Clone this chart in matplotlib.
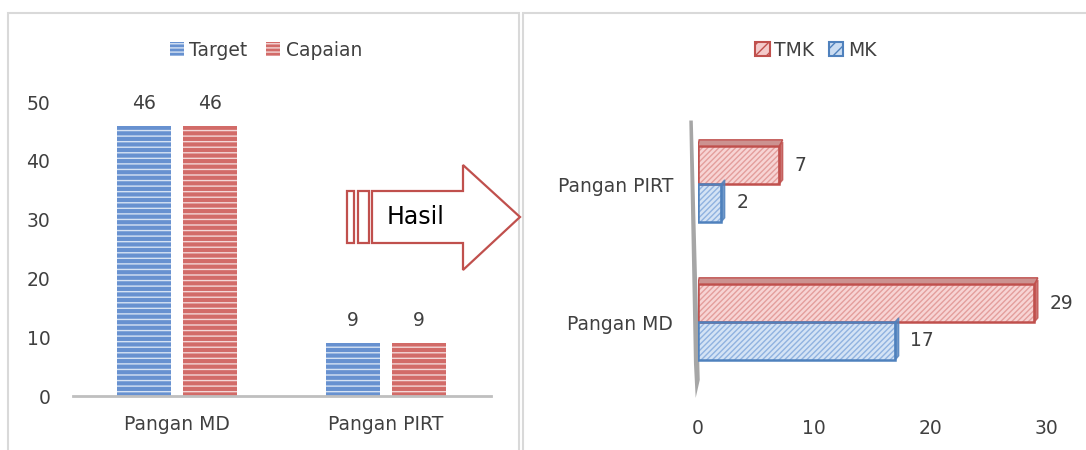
import matplotlib

matplotlib.use("Agg")
import matplotlib.pyplot as plt
from matplotlib.patches import Patch, Polygon, Rectangle

plt.rcParams["font.family"] = ["DejaVu Sans"]

# Data: left chart (target vs capaian)
categories_left = ["Pangan MD", "Pangan PIRT"]
target = [46, 9]
capaian = [46, 9]
yticks_left = [0, 10, 20, 30, 40, 50]

# Data: right chart (TMK vs MK)
categories_right = ["Pangan MD", "Pangan PIRT"]
tmk = [29, 7]
mk = [17, 2]
xticks_right = [0, 10, 20, 30]

BLUE = "#6791D0"
RED = "#D26B68"
BLUE_EDGE = "#4F81BD"
RED_EDGE = "#C0504D"
TEXT = "#404040"
GRAY = "#BFBFBF"
FS = 13.5


def hatch_lw(artists, lw):
    # hatch linewidth is read from rcParams at draw time, so wrap each draw
    for a in artists:
        orig = a.draw

        def draw(renderer, _orig=orig):
            with plt.rc_context({"hatch.linewidth": lw}):
                _orig(renderer)

        a.draw = draw


fig = plt.figure(figsize=(10.86, 4.5), dpi=100)
fig.patch.set_facecolor("white")

# panel frames
for x0, x1 in [(8, 519), (523, 1092)]:
    fig.patches.append(Rectangle((x0 / 1086, -0.05), (x1 - x0) / 1086, (450 - 13) / 450 + 0.05,
                                 transform=fig.transFigure, fill=False, edgecolor="#D9D9D9",
                                 linewidth=1.5, zorder=0))

# ---------- left chart ----------
ax1 = fig.add_axes([72.5 / 1086, 54 / 450, 418 / 1086, 294 / 450])
xs = range(len(categories_left))
w = 0.26
off = 0.1575
for vals, col, stripe, sign in [(target, BLUE, "#D6E2F3", -1), (capaian, RED, "#F3D6D6", 1)]:
    pos = [x + sign * off for x in xs]
    ax1.bar(pos, vals, width=w, color=col, linewidth=0, zorder=2)
    bars = ax1.bar(pos, vals, width=w, color="none", edgecolor=stripe, hatch="---", linewidth=0, zorder=3)
    hatch_lw(bars, 2.0)
    for p, v in zip(pos, vals):
        ax1.text(p, v + 2.2, str(v), ha="center", va="bottom", fontsize=FS, color=TEXT)
ax1.set_xlim(-0.5, 1.5)
ax1.set_ylim(0, 50)
ax1.set_yticks(yticks_left)
ax1.set_xticks(list(xs))
ax1.set_xticklabels(categories_left)
ax1.tick_params(length=0, labelsize=FS, labelcolor=TEXT)
ax1.tick_params(axis="y", pad=16)
ax1.tick_params(axis="x", pad=14)
for s in ["top", "right", "left"]:
    ax1.spines[s].set_visible(False)
ax1.spines["bottom"].set_color(GRAY)
ax1.spines["bottom"].set_linewidth(2)
ax1.patch.set_alpha(0)

h_t = Patch(facecolor=BLUE, edgecolor="#D6E2F3", hatch="----", linewidth=0)
h_c = Patch(facecolor=RED, edgecolor="#F3D6D6", hatch="----", linewidth=0)
leg1 = fig.legend([h_t, h_c], ["Target", "Capaian"], loc="center",
                  bbox_to_anchor=(266 / 1086, 1 - 50 / 450), ncol=2, frameon=False, fontsize=FS,
                  labelcolor=TEXT, handlelength=0.75, handleheight=0.75, handletextpad=0.3,
                  columnspacing=1.0)
hatch_lw(leg1.get_patches(), 0.8)


# ---------- arrow "Hasil" ----------
def fx(px):
    return px / 1086


def fy(py):
    return 1 - py / 450


arrow = [(372, 191), (463, 191), (463, 165), (520, 217), (463, 270), (463, 243), (372, 243)]
fig.patches.append(Polygon([(fx(a), fy(b)) for a, b in arrow], closed=True, transform=fig.transFigure,
                           facecolor="white", edgecolor=RED_EDGE, linewidth=1.6, zorder=5))
for a, b in [(347, 354), (358, 369)]:
    fig.patches.append(Rectangle((fx(a), fy(243)), fx(b - a), (243 - 191) / 450,
                                 transform=fig.transFigure, facecolor="white",
                                 edgecolor=RED_EDGE, linewidth=1.6, zorder=5))
fig.text(fx(416), fy(217), "Hasil", ha="center", va="center", fontsize=17, color="black", zorder=6)

# ---------- right chart ----------
ax2 = fig.add_axes([698 / 1086, 59 / 450, 348 / 1086, 276 / 450])
ys = range(len(categories_right))
h = 0.275
for vals, face, hat, edge, sign in [(tmk, "#F7D4D4", "#E39E9C", RED_EDGE, 1),
                                    (mk, "#D4E3F5", "#90B2E0", BLUE_EDGE, -1)]:
    pos = [y + sign * h / 2 for y in ys]
    ax2.barh(pos, vals, height=h, color=face, linewidth=0, zorder=2)
    bars = ax2.barh(pos, vals, height=h, color="none", edgecolor=hat, hatch="//////", linewidth=0, zorder=3)
    hatch_lw(bars, 0.7)
    ax2.barh(pos, vals, height=h, color="none", edgecolor=edge, linewidth=1.8, zorder=4)
    for p, v in zip(pos, vals):
        # small 3D side face
        ax2.add_patch(Polygon([(v, p - h / 2), (v, p + h / 2), (v + 0.3, p + h / 2 + 0.03),
                               (v + 0.3, p - h / 2 + 0.03)], closed=True,
                              facecolor=edge, edgecolor=edge, alpha=0.8, zorder=4))
        ax2.text(v + 1.3, p, str(v), ha="left", va="center", fontsize=FS, color=TEXT)
# top face on the upper bars
for p, v in zip([y + h / 2 for y in ys], tmk):
    ax2.add_patch(Polygon([(0, p + h / 2), (v, p + h / 2), (v + 0.3, p + h / 2 + 0.045),
                           (0.1, p + h / 2 + 0.045)], closed=True,
                          facecolor="#CC9290", edgecolor=RED_EDGE, linewidth=1, zorder=4))
# grey wall
ax2.add_patch(Polygon([(-0.75, 1.46), (-0.45, 1.46), (0.15, -0.42), (-0.2, -0.55), (-0.35, -0.3)],
                      closed=True, facecolor="#A6A6A6", edgecolor="none", zorder=1, clip_on=False))
ax2.set_xlim(0, 30)
ax2.set_ylim(-0.5, 1.5)
ax2.set_xticks(xticks_right)
ax2.set_yticks(list(ys))
ax2.set_yticklabels(categories_right)
ax2.tick_params(length=0, labelsize=FS, labelcolor=TEXT)
ax2.tick_params(axis="x", pad=20)
ax2.tick_params(axis="y", pad=18)
for s in ax2.spines.values():
    s.set_visible(False)
ax2.patch.set_alpha(0)

h_tmk = Patch(facecolor="#F4CACA", edgecolor=RED_EDGE, hatch="///", linewidth=1.5)
h_mk = Patch(facecolor="#CADCF2", edgecolor=BLUE_EDGE, hatch="///", linewidth=1.5)
leg2 = fig.legend([h_tmk, h_mk], ["TMK", "MK"], loc="center", bbox_to_anchor=(816 / 1086, 1 - 50 / 450),
                  ncol=2, frameon=False, fontsize=FS, labelcolor=TEXT, handlelength=0.75,
                  handleheight=0.75, handletextpad=0.25, columnspacing=0.8)
hatch_lw(leg2.get_patches(), 0.7)

fig.savefig("out.png", dpi=100, facecolor="white")
